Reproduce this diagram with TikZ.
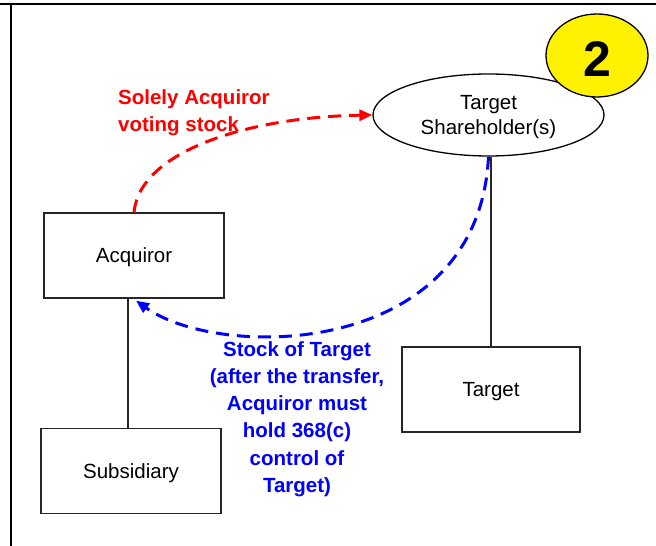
\documentclass[tikz,border=0pt]{standalone}
\usepackage{fontspec}
\setmainfont{Liberation Sans}
\usetikzlibrary{arrows.meta,shapes.geometric}

\begin{document}
\begin{tikzpicture}[x=1pt,y=1pt,
    font=\fontsize{20.5}{25}\selectfont,
    box/.style={draw=black!85,line width=1.3pt,minimum width=180pt,minimum height=85pt,inner sep=0pt,text height=19.9pt,text depth=5.1pt},
    link/.style={draw=black!85,line width=1.3pt},
    flow/.style={line width=3pt,dash pattern=on 13pt off 8pt,-{Triangle[length=13pt,width=11pt]}},
    lbl/.style={font=\bfseries\fontsize{20.5}{27.2}\selectfont,inner sep=0pt}]
  \useasboundingbox (0,0) rectangle (656,546);
  % frame
  \draw[line width=2.2pt] (0,542) -- (656,542);
  \draw[line width=2.2pt] (11,543) -- (11,0);
  % parties
  \node[box] (Acq) at (134,290.5) {Acquiror};
  \node[box] (Sub) at (131,75) {Subsidiary};
  \node[box,minimum width=178pt] (Tgt) at (491,156.5) {Target};
  \node[draw,ellipse,line width=1.3pt,minimum width=231pt,minimum height=82pt,inner sep=0pt] (TS) at (488.5,431) {};
  \node[align=center,inner sep=0pt] (TSname) at ([yshift=-2pt]TS.center) {Target\\Shareholder(s)};
  \node[draw,ellipse,fill=yellow,line width=1.3pt,minimum width=102pt,minimum height=83pt,inner sep=0pt,text height=42pt,text depth=0pt,font=\bfseries\fontsize{50}{55}\selectfont] (Num) at (597,490.5) {2};
  % ownership
  \draw[link] ([xshift=-6pt]Acq.south) -- ([xshift=-3pt]Sub.north);
  \draw[link] (TS.south -| Tgt.north) -- (Tgt.north);
  % exchange
  \draw[flow,red] (Acq.north) .. controls +(6,62) and +(-122,-2) .. (TS.west);
  \draw[flow,blue] (TS.south) .. controls +(-10,-202) and +(84,-60) .. ([shift={(2pt,-2pt)}]Acq.south);
  \node[lbl,red,align=left,anchor=west] (Give) at (118,433) {Solely Acquiror\\voting stock};
  \node[lbl,blue,align=center] (Get) at (297,127) {Stock of Target\\(after the transfer,\\Acquiror must\\hold 368(c)\\control of\\Target)};
\end{tikzpicture}
\end{document}
